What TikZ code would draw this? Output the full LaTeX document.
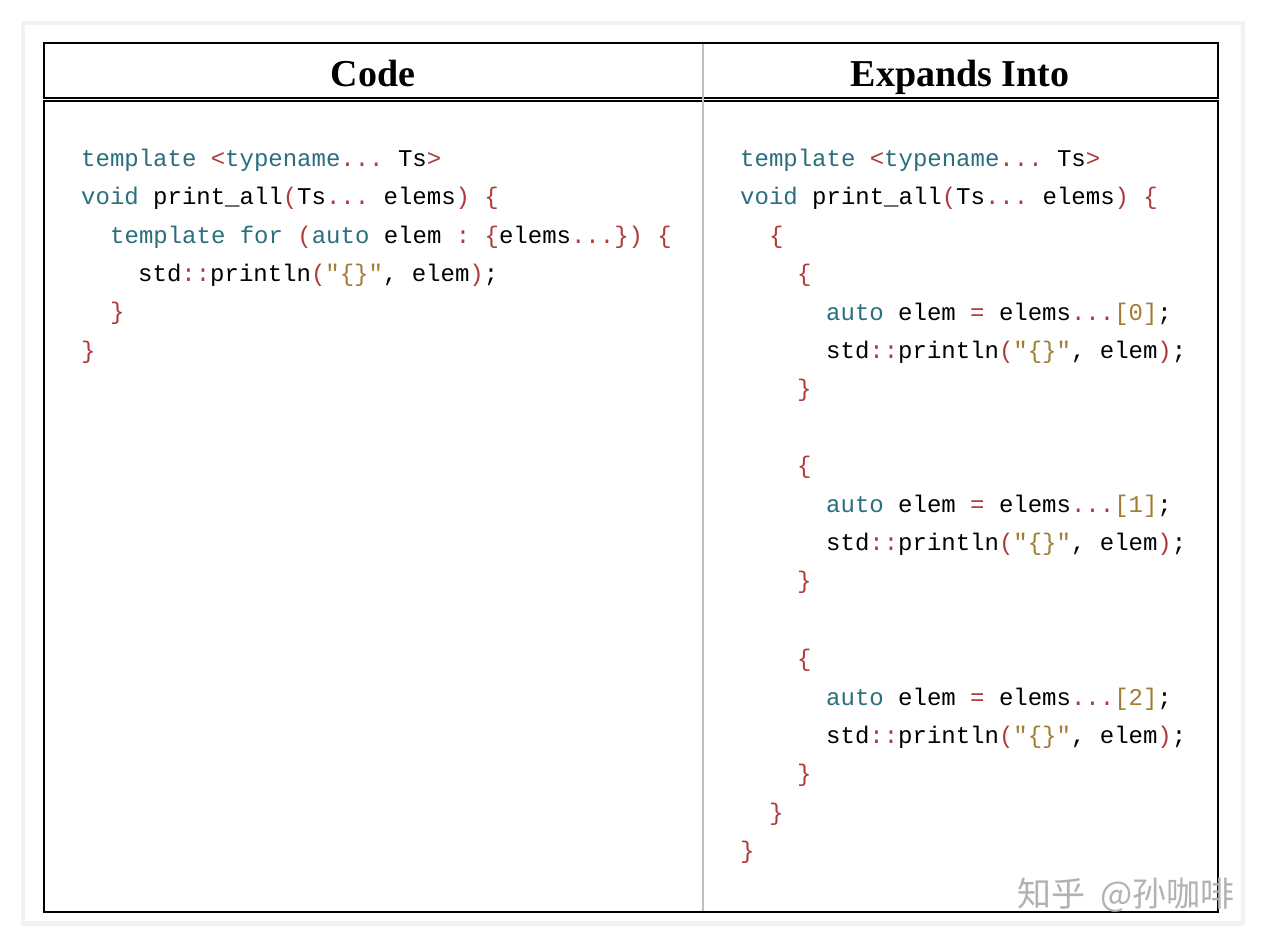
\documentclass[tikz,border=0pt]{standalone}
\usepackage{fontspec}
\setmainfont{Liberation Serif}
\setmonofont{Liberation Mono}
\newfontfamily\cjk{Noto Sans CJK SC}
\usepackage{xcolor}
\definecolor{kwcol}{RGB}{43,110,126}
\definecolor{pucol}{RGB}{176,58,58}
\definecolor{stcol}{RGB}{160,125,50}
\definecolor{cardgray}{RGB}{242,242,242}
\newcommand{\kw}[1]{\textcolor{kwcol}{#1}}
\newcommand{\pu}[1]{\textcolor{pucol}{#1}}
\newcommand{\st}[1]{\textcolor{stcol}{#1}}
\tikzset{codeline/.style={anchor=west,inner sep=0pt,font=\fontsize{24}{24}\selectfont\ttfamily},
  title/.style={anchor=base,inner sep=0pt,font=\fontsize{38}{38}\selectfont\bfseries}}
\begin{document}
\begin{tikzpicture}[x=1pt,y=-1pt]
\useasboundingbox (0,0) rectangle (1266,946);
%%%CARD
\fill[white] (0,0) rectangle (1266,946);
\fill[cardgray] (21,21) rectangle (1245,926);
\fill[white] (25,25) rectangle (1241,921);
%%%TABLE
\draw[line width=2pt] (44,43) rectangle (1218,98);
\draw[line width=2pt] (44,101) rectangle (1218,912);
\draw[black!25,line width=1.2pt] (703,44) -- (703,911);
\node[title] (hcode) at (373,86) {Code};
\node[title] (hexp) at (960,86) {Expands Into};
%%%LEFT COLUMN
\node[codeline] (l1) at (81,160) {\kw{template} \pu{<}\kw{typename}\pu{...} Ts\pu{>}};
\node[codeline] (l2) at (81,198) {\kw{void} print\_all\pu{(}Ts\pu{...} elems\pu{)} \pu{\{}};
\node[codeline] (l3) at (110,237) {\kw{template} \kw{for} \pu{(}\kw{auto} elem \pu{:} \pu{\{}elems\pu{...\})} \pu{\{}};
\node[codeline] (l4) at (138,275) {std\pu{::}println\pu{(}\st{"\{\}"}, elem\pu{)};};
\node[codeline] (l5) at (110,313) {\pu{\}}};
\node[codeline] (l6) at (81,352) {\pu{\}}};
%%%RIGHT COLUMN
\node[codeline] (r1) at (740,160) {\kw{template} \pu{<}\kw{typename}\pu{...} Ts\pu{>}};
\node[codeline] (r2) at (740,198) {\kw{void} print\_all\pu{(}Ts\pu{...} elems\pu{)} \pu{\{}};
\node[codeline] (r3) at (769,237) {\pu{\{}};
\foreach \i/\y in {0/275,1/467,2/660}{
  \node[codeline] (o\i) at (797,\y) {\pu{\{}};
  \node[codeline] (a\i) at (826,\y+39) {\kw{auto} elem \pu{=} elems\pu{...}\st{[\i]};};
  \node[codeline] (p\i) at (826,\y+77) {std\pu{::}println\pu{(}\st{"\{\}"}, elem\pu{)};};
  \node[codeline] (c\i) at (797,\y+115) {\pu{\}}};
}
\node[codeline] (r4) at (769,814) {\pu{\}}};
\node[codeline] (r5) at (740,852) {\pu{\}}};
%%%WATERMARK
\node[anchor=east,font=\fontsize{34}{34}\selectfont\cjk,text=black!30] (wm) at (1238,895) {知乎\ \ @孙咖啡};
\end{tikzpicture}
\end{document}
